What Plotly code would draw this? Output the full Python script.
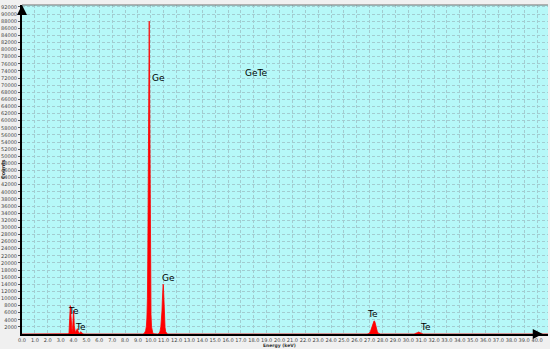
import plotly.graph_objects as go

# Spectrum segments (energy keV, counts)
te_l_energy = [3.50, 3.60, 3.65, 3.69, 3.72, 3.75, 3.78, 3.81, 3.85, 3.89, 3.93, 3.97, 4.00, 4.03, 4.06, 4.10, 4.15, 4.20, 4.25, 4.30, 4.35, 4.40, 4.48, 4.54, 4.58, 4.63, 4.70, 4.80]
te_l_counts = [0, 60, 400, 2200, 5600, 8000, 6400, 2800, 800, 500, 1600, 4300, 6500, 5200, 2300, 700, 400, 800, 1400, 1500, 900, 300, 300, 600, 650, 300, 80, 0]

ge_ka_energy = [9.40, 9.50, 9.60, 9.66, 9.70, 9.74, 9.77, 9.80, 9.83, 9.86, 9.88, 9.90, 9.93, 9.96, 9.99, 10.02, 10.06, 10.10, 10.16, 10.24, 10.35]
ge_ka_counts = [0, 200, 900, 2200, 4500, 10000, 22000, 45000, 68000, 85000, 88000, 76000, 52000, 28000, 13000, 5500, 2000, 800, 300, 80, 0]

ge_kb_energy = [10.55, 10.65, 10.72, 10.78, 10.83, 10.87, 10.90, 10.93, 10.96, 10.98, 11.01, 11.04, 11.07, 11.11, 11.16, 11.22, 11.30]
ge_kb_counts = [0, 200, 800, 2000, 3800, 6500, 9500, 12500, 14000, 13500, 11000, 7500, 4200, 1800, 600, 150, 0]

te_ka_energy = [26.80, 26.95, 27.05, 27.15, 27.22, 27.28, 27.34, 27.40, 27.46, 27.52, 27.60, 27.70, 27.85]
te_ka_counts = [0, 150, 600, 1600, 2500, 3200, 3700, 3500, 2600, 1500, 600, 150, 0]

te_kb_energy = [30.45, 30.60, 30.70, 30.80, 30.90, 31.00, 31.15]
te_kb_counts = [0, 120, 380, 550, 400, 130, 0]

x_ticks = [float(v) for v in range(0, 41)]
y_ticks = list(range(2000, 92001, 2000))

labels_text = ["Ge", "GeTe", "Ge", "Te", "Te", "Te", "Te"]
labels_x = [10.6, 18.2, 11.4, 4.0, 4.55, 27.25, 31.3]
labels_y = [72000, 73500, 15800, 6400, 2100, 5700, 2100]

energy = [0.0] + te_l_energy + ge_ka_energy + ge_kb_energy + te_ka_energy + te_kb_energy + [40.85]
counts = [0] + te_l_counts + ge_ka_counts + ge_kb_counts + te_ka_counts + te_kb_counts + [0]

fig = go.Figure()
fig.add_trace(go.Scatter(
    x=energy, y=counts, mode="lines", fill="tozeroy",
    line=dict(color="#FF0000", width=0.8), fillcolor="#FF0000",
    hoverinfo="skip", showlegend=False,
))

for t, xx, yy in zip(labels_text, labels_x, labels_y):
    fig.add_annotation(x=xx, y=yy, text=t, showarrow=False,
                       font=dict(family="DejaVu Sans", size=9, color="#000000"))

grid = "#A2CCD0"
fig.update_layout(
    width=550, height=349,
    margin=dict(l=22, r=2, t=5, b=15),
    paper_bgcolor="#F0F0F0", plot_bgcolor="#B6F8F8",
    xaxis=dict(range=[0, 40.85], tickvals=x_ticks, tickformat=".1f", tickangle=0,
               automargin=False,
               showgrid=True, gridcolor=grid, griddash="3px,2px", gridwidth=1,
               showline=True, linecolor="#000000", linewidth=2,
               ticks="", 
               tickfont=dict(family="DejaVu Sans", size=5, color="#444444"),
               zeroline=False),
    yaxis=dict(range=[0, 92550], tickvals=y_ticks, tickformat="d", tickangle=0,
               automargin=False,
               showgrid=True, gridcolor=grid, griddash="3px,2px", gridwidth=1,
               showline=True, linecolor="#000000", linewidth=2,
               ticks="outside", ticklen=2, tickcolor="#555555",
               tickfont=dict(family="DejaVu Sans", size=5, color="#444444"),
               zeroline=False),
)

# axis titles
fig.add_annotation(xref="paper", yref="paper", x=0.49, y=0, yshift=-11.5,
                   xanchor="center", yanchor="middle",
                   text="<b>Energy (keV)</b>", showarrow=False,
                   font=dict(family="DejaVu Sans", size=4.5, color="#333333"))
fig.add_annotation(xref="paper", yref="paper", x=0, xshift=-19.5, y=0.5,
                   xanchor="center", yanchor="middle",
                   text="<b>Counts</b>", textangle=-90, showarrow=False,
                   font=dict(family="DejaVu Sans", size=5, color="#333333"))

# top border
fig.add_shape(type="line", xref="paper", yref="paper", x0=0, x1=1, y0=1, y1=1,
              line=dict(color="#707070", width=1))

# axis arrows
fig.add_annotation(xref="paper", yref="paper", x=0.99, y=0, ax=-10, ay=0,
                   text="", showarrow=True, arrowhead=2, arrowsize=1, arrowwidth=2,
                   arrowcolor="#000000")
fig.add_annotation(xref="paper", yref="paper", x=0, y=1, ax=0, ay=10,
                   text="", showarrow=True, arrowhead=2, arrowsize=1, arrowwidth=2,
                   arrowcolor="#000000")

fig.write_html("out.html")
